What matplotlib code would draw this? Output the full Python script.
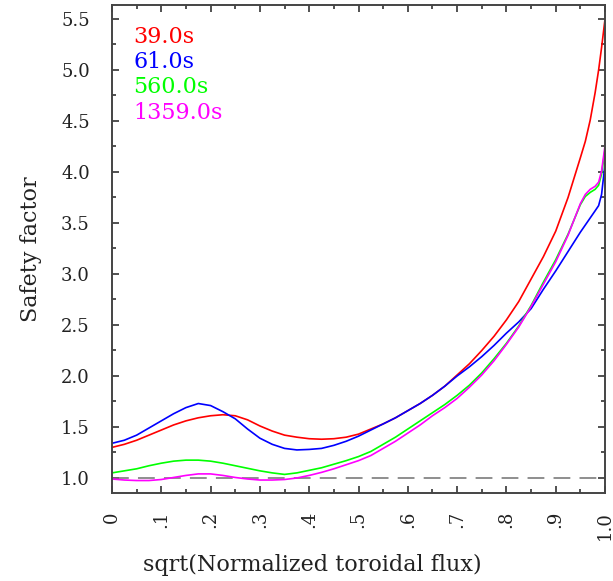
import numpy as np
import matplotlib
matplotlib.use("Agg")
import matplotlib.pyplot as plt
from matplotlib.ticker import MultipleLocator, FixedLocator

plt.rcParams['font.family'] = ['DejaVu Serif']

# radial coordinate and q-profiles at four times
rho = [0.0, 0.025, 0.05, 0.075, 0.1, 0.125, 0.15, 0.175, 0.2, 0.225, 0.25,
       0.275, 0.3, 0.325, 0.35, 0.375, 0.4, 0.425, 0.45, 0.475, 0.5,
       0.525, 0.55, 0.575, 0.6, 0.625, 0.65, 0.675, 0.7, 0.725, 0.75,
       0.775, 0.8, 0.825, 0.85, 0.875, 0.9, 0.925, 0.95,
       0.96, 0.97, 0.98, 0.987, 0.993, 1.0]
q_39 = [1.30, 1.33, 1.37, 1.42, 1.47, 1.52, 1.56, 1.59, 1.61, 1.62, 1.61,
        1.57, 1.51, 1.46, 1.42, 1.40, 1.385, 1.38, 1.385, 1.40, 1.43,
        1.48, 1.53, 1.59, 1.66, 1.73, 1.81, 1.90, 2.01, 2.12, 2.25,
        2.39, 2.55, 2.73, 2.95, 3.17, 3.42, 3.75, 4.14,
        4.30, 4.51, 4.78, 5.00, 5.22, 5.50]
q_61 = [1.34, 1.37, 1.42, 1.49, 1.56, 1.63, 1.69, 1.73, 1.71, 1.65, 1.58,
        1.48, 1.39, 1.33, 1.29, 1.275, 1.28, 1.29, 1.32, 1.36, 1.41,
        1.47, 1.53, 1.59, 1.66, 1.73, 1.81, 1.90, 2.00, 2.09, 2.19,
        2.30, 2.42, 2.53, 2.66, 2.85, 3.03, 3.22, 3.41,
        3.48, 3.55, 3.62, 3.67, 3.78, 4.08]
q_560 = [1.05, 1.07, 1.09, 1.12, 1.145, 1.165, 1.175, 1.175, 1.165, 1.145, 1.12,
         1.095, 1.07, 1.05, 1.035, 1.05, 1.075, 1.10, 1.135, 1.17, 1.21,
         1.26, 1.33, 1.40, 1.48, 1.56, 1.64, 1.72, 1.81, 1.91, 2.03,
         2.17, 2.32, 2.49, 2.69, 2.92, 3.14, 3.39, 3.68,
         3.76, 3.80, 3.83, 3.87, 3.98, 4.22]
q_1359 = [0.99, 0.98, 0.975, 0.975, 0.985, 1.005, 1.025, 1.04, 1.04, 1.025, 1.005,
          0.99, 0.98, 0.98, 0.985, 1.00, 1.025, 1.055, 1.09, 1.13, 1.17,
          1.22, 1.29, 1.36, 1.44, 1.52, 1.61, 1.69, 1.78, 1.89, 2.01,
          2.15, 2.31, 2.48, 2.68, 2.90, 3.12, 3.38, 3.69,
          3.78, 3.83, 3.86, 3.90, 4.01, 4.26]

labels = ['39.0s', '61.0s', '560.0s', '1359.0s']
colors = ['#ff0000', '#0000ff', '#00ff00', '#ff00ff']
profiles = [q_39, q_61, q_560, q_1359]

fig = plt.figure(figsize=(6.13, 5.81), dpi=100)
ax = fig.add_axes([0.1827, 0.1515, 0.8043, 0.8399])

ax.axhline(1.0, color='#707070', lw=1.1, dashes=(11, 6))
for q, c in zip(profiles, colors):
    ax.plot(rho, q, color=c, lw=1.2, solid_joinstyle='round')

ax.set_xlim(0, 1.0)
ax.set_ylim(0.853, 5.637)

ax.xaxis.set_major_locator(FixedLocator(np.arange(0, 1.01, 0.1)))
ax.xaxis.set_minor_locator(MultipleLocator(0.05))
ax.yaxis.set_major_locator(FixedLocator(np.arange(1.0, 5.51, 0.5)))
ax.yaxis.set_minor_locator(MultipleLocator(0.25))
ax.set_xticklabels(['0', '.1', '.2', '.3', '.4', '.5', '.6', '.7', '.8', '.9', '1.0'],
                   rotation=90)
ax.set_yticklabels(['%.1f' % v for v in np.arange(1.0, 5.51, 0.5)])

ax.tick_params(which='both', direction='in', top=True, right=True,
               color='#333333', labelsize=13, labelcolor='#222222')
ax.tick_params(axis='x', pad=13)
ax.tick_params(axis='y', pad=16)
ax.tick_params(which='major', length=5, width=1.2)
ax.tick_params(which='minor', length=3, width=1.2)
for s in ax.spines.values():
    s.set_color('#444444')
    s.set_linewidth(1.4)

ax.set_xlabel('sqrt(Normalized toroidal flux)', fontsize=16, color='#222222')
ax.set_ylabel('Safety factor', fontsize=16, color='#222222')
ax.xaxis.set_label_coords(0.406, -0.125)
ax.yaxis.set_label_coords(-0.142, 0.5)

for i, (lab, c) in enumerate(zip(labels, colors)):
    ax.text(0.043, 0.934 - i * 0.0515, lab, color=c, fontsize=16,
            transform=ax.transAxes, va='center', ha='left')

fig.savefig('out.png', dpi=100)
